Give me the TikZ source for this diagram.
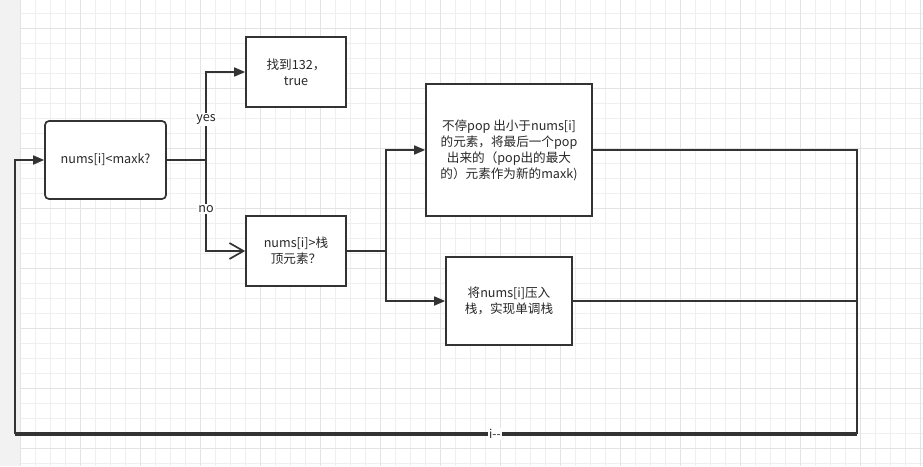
\documentclass[tikz,border=0pt]{standalone}
\usepackage{fontspec}
\newfontfamily\cjk{Noto Sans CJK SC}
\usetikzlibrary{arrows.meta}
\definecolor{ink}{HTML}{333333}
\definecolor{minorgrid}{HTML}{EFEFEF}
\definecolor{majorgrid}{HTML}{E3E3E3}
\definecolor{strip}{HTML}{F2F2F2}
\tikzset{
  box/.style={draw=ink,line width=1.7pt,fill=white,align=center,text=ink!80!black,
    font=\cjk\fontsize{12.6pt}{16pt}\selectfont,inner sep=2pt},
  line/.style={draw=ink,line width=1.7pt},
  flow/.style={line,-{Triangle[length=11pt,width=9pt]}},
  openflow/.style={line,-{Straight Barb[length=14pt,width=16pt]}},
  lab/.style={fill=white,text=ink!80!black,inner sep=1.5pt,font=\cjk\fontsize{12.6pt}{14pt}\selectfont}
}
\begin{document}
\begin{tikzpicture}[x=1pt,y=-1pt]
\useasboundingbox (0,0) rectangle (923,466);
% background grid
\fill[white] (0,0) rectangle (923,466);
\fill[strip] (0,0) rectangle (20,466);
\foreach \x in {35,50,...,920} \draw[minorgrid,line width=0.8pt] (\x,0) -- (\x,466);
\foreach \y in {13.3,28.3,...,466} \draw[minorgrid,line width=0.8pt] (20,\y) -- (923,\y);
\foreach \x in {20,80,...,920} \draw[majorgrid,line width=0.8pt] (\x,0) -- (\x,466);
\foreach \y in {28.3,88.3,...,466} \draw[majorgrid,line width=0.8pt] (20,\y) -- (923,\y);

\node[box,rounded corners=4pt,minimum width=121pt,minimum height=78pt] (cmp) at (105.5,160) {nums[i]<maxk?};
\node[box,minimum width=100pt,minimum height=70pt] (found) at (296,72) {找到132，\\true};
\node[box,minimum width=100pt,minimum height=70pt] (top) at (296,251) {nums[i]>栈\\顶元素？};
\node[box,minimum width=166pt,minimum height=132pt] (pop) at (509,150)
  {不停pop 出小于nums[i]\\的元素，将最后一个pop\\出来的（pop出的最大\\的）元素作为新的maxk)};
\node[box,minimum width=126pt,minimum height=88pt] (push) at (509,301) {将nums[i]压入\\栈，实现单调栈};

\coordinate (s_0) at (206,160);
\coordinate (s_1) at (386,251);
\coordinate (r_0) at (857,434);
\coordinate (l_0) at (15,434);

\draw[line] (cmp.east) -- (s_0);
\draw[flow] (s_0) |- node[lab,pos=0.23] {yes} (found.west);
\draw[openflow] (s_0) |- node[lab,pos=0.27] {no} (top.west);
\draw[line] (top.east) -- (s_1);
\draw[flow] (s_1) |- (pop.west);
\draw[flow] (s_1) |- (push.west);
\draw[line] (pop.east) -| (r_0);
\draw[line] (push.east) -| (r_0);
\draw[line,line width=3.6pt] (r_0) -- node[lab,pos=0.43,inner sep=1.5pt,font=\cjk\fontsize{12pt}{12pt}\selectfont] {i-{}-} (l_0);
\draw[flow] (l_0) |- (cmp.west);
\end{tikzpicture}
\end{document}
